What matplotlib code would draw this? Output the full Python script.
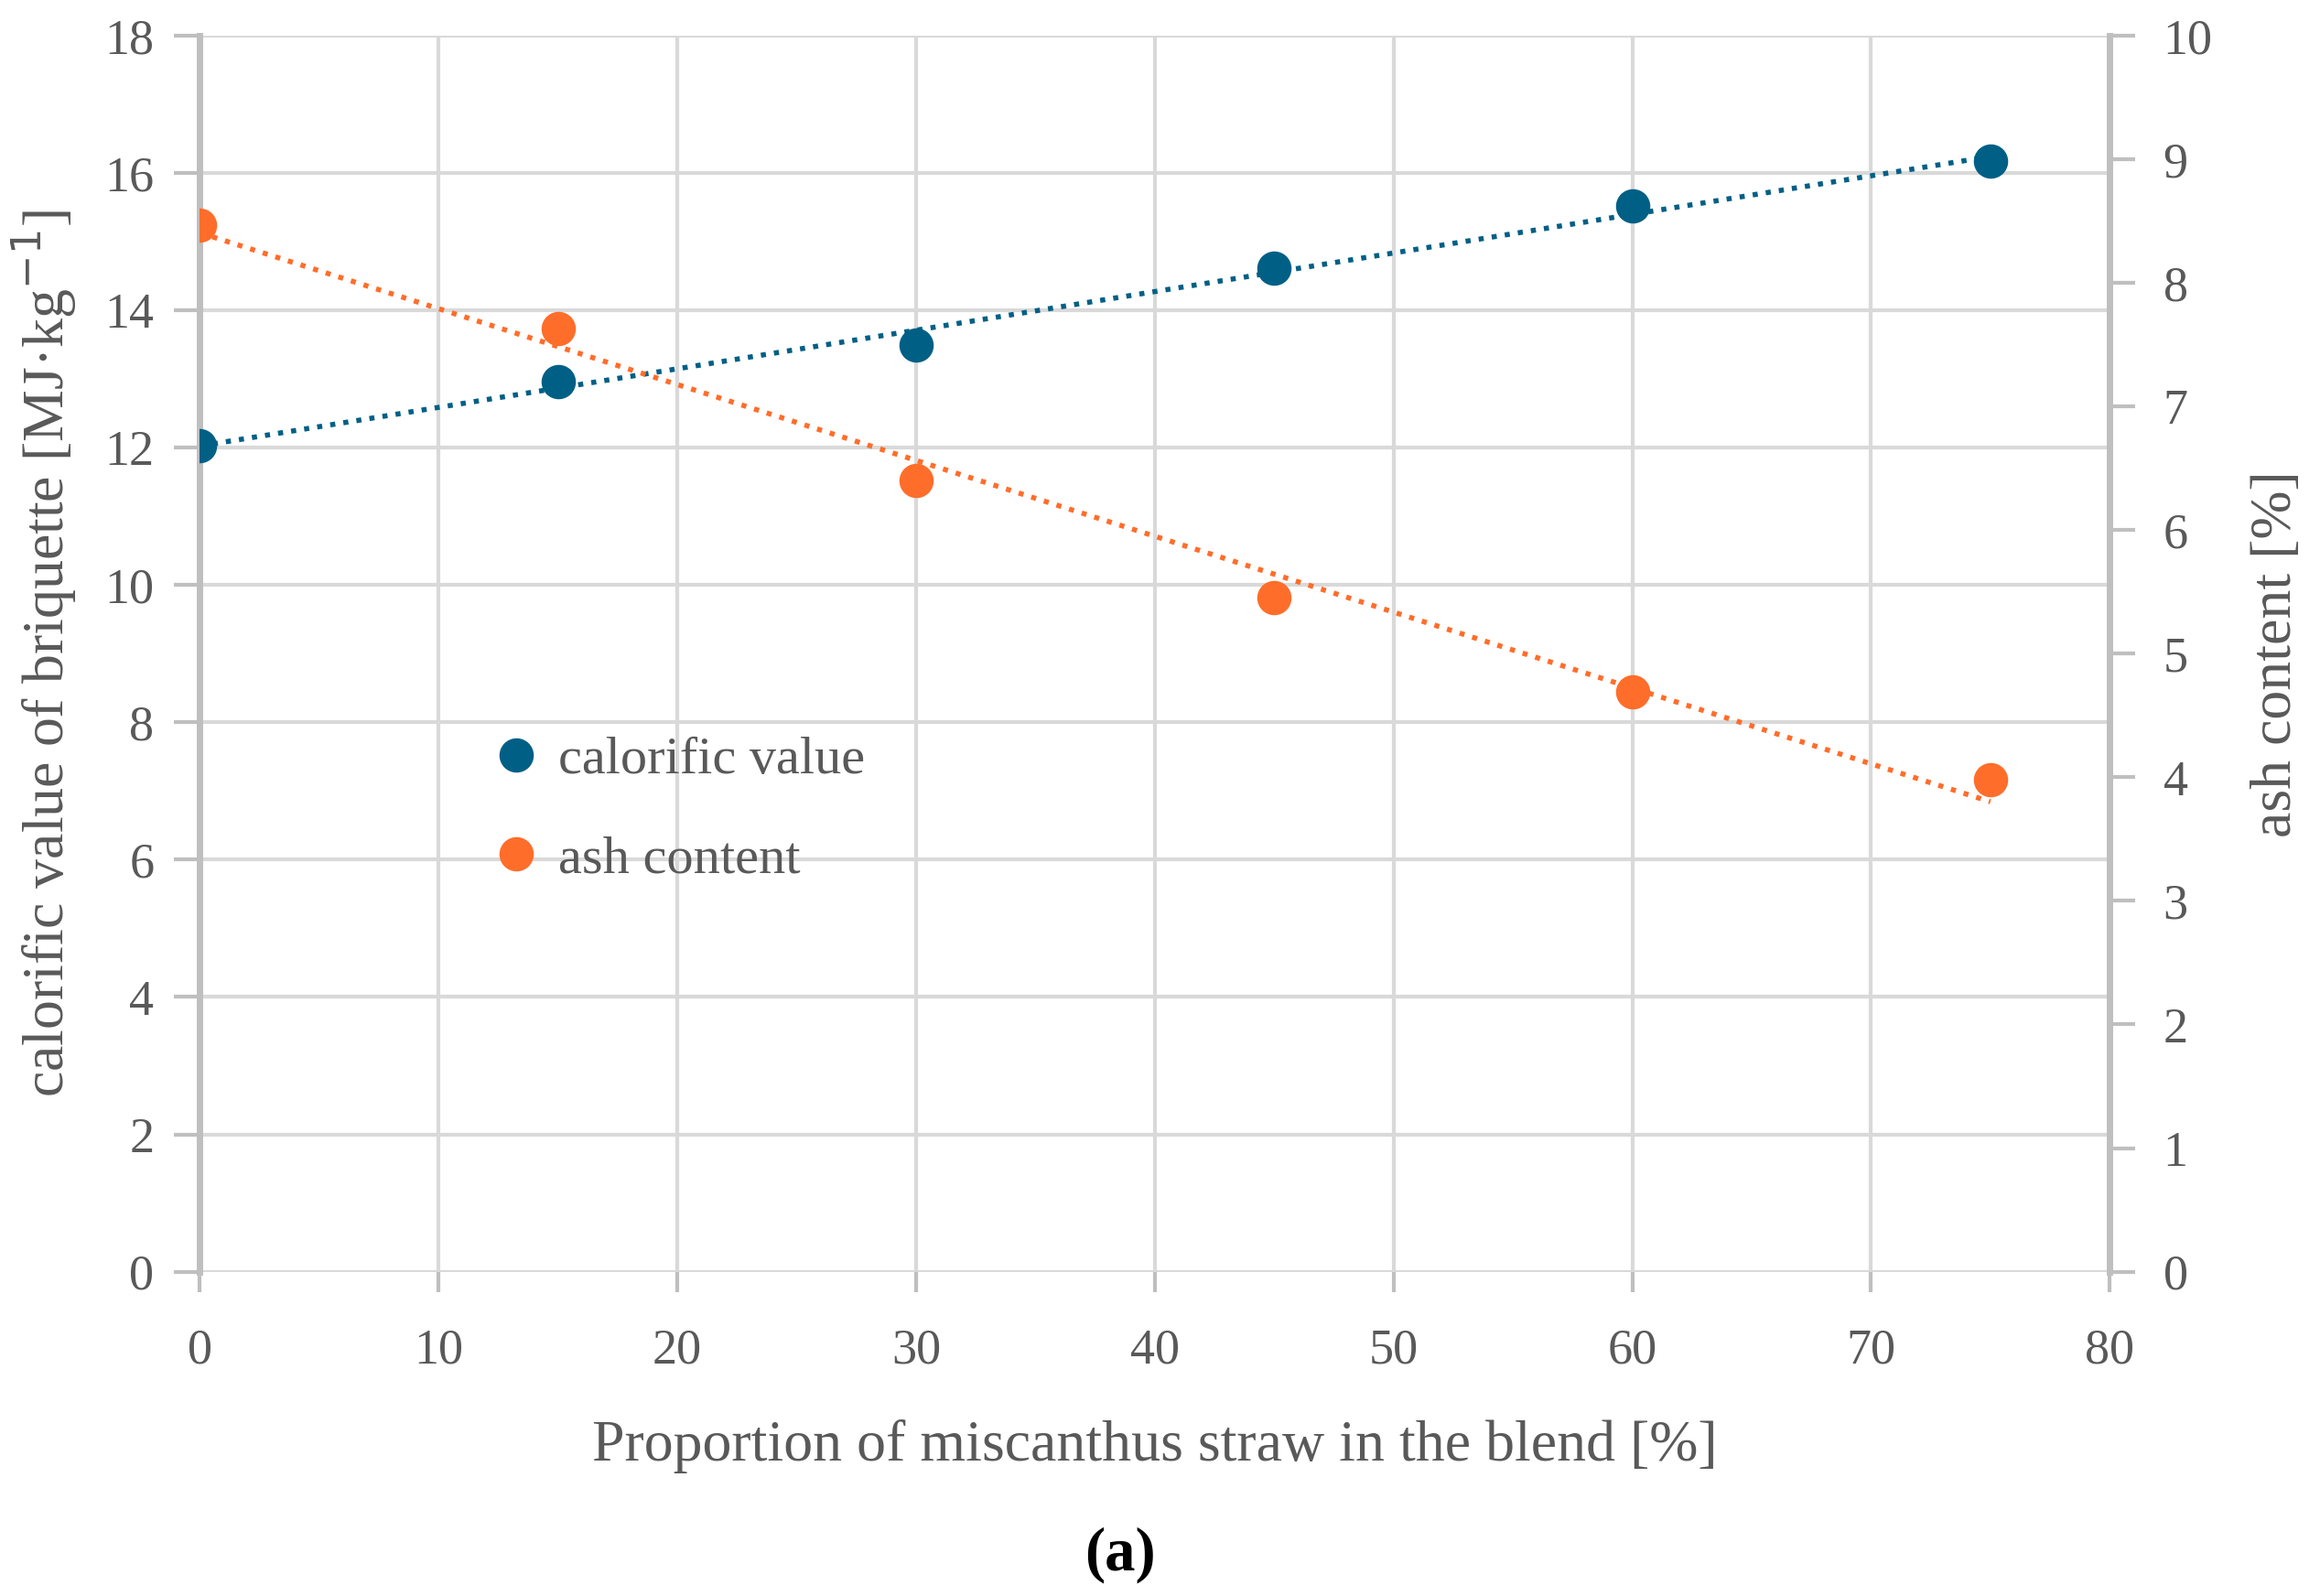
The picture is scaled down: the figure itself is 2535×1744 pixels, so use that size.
import numpy as np
import matplotlib
matplotlib.use("Agg")
import matplotlib.pyplot as plt

# data
share = [0, 15, 30, 45, 60, 75]
calorific = [12.03, 12.96, 13.49, 14.62, 15.52, 16.17]
ash = [8.47, 7.63, 6.40, 5.45, 4.69, 3.98]

blue = "#005F85"
orange = "#FF6D2A"
txt = "#595959"

plt.rcParams['font.family'] = ['Liberation Serif', 'DejaVu Serif']

fig = plt.figure(figsize=(25.35, 17.44), dpi=100)
ax1 = fig.add_axes([0.0861, 0.2032, 0.8233, 0.7745])
ax2 = ax1.twinx()

# trend lines (linear fits of the points)
xx = np.array([0, 75])
p1 = np.polyfit(share, calorific, 1)
p2 = np.polyfit(share, ash, 1)
ax1.plot(xx, np.polyval(p1, xx), color=blue, lw=4, ls=(0, (1, 1.6)), zorder=3)
ax2.plot(xx, np.polyval(p2, xx), color=orange, lw=4, ls=(0, (1, 1.6)), zorder=3)

h1, = ax1.plot(share, calorific, 'o', color=blue, ms=26, zorder=4, label='calorific value')
h2, = ax2.plot(share, ash, 'o', color=orange, ms=26, zorder=4, label='ash content')

ax1.set_xlim(0, 80)
ax1.set_ylim(0, 18)
ax2.set_ylim(0, 10)
ax1.set_xticks(range(0, 81, 10))
ax1.set_yticks(range(0, 19, 2))
ax2.set_yticks(range(0, 11, 1))

ax1.grid(True, color='#d9d9d9', lw=3)
ax1.set_axisbelow(True)

for ax in (ax1, ax2):
    for s in ax.spines.values():
        s.set_visible(False)
    ax.tick_params(colors='#bfbfbf', labelcolor=txt, labelsize=39, width=3, length=20, pad=16)
ax1.spines['left'].set_visible(True)
ax1.spines['left'].set_color('#bfbfbf')
ax1.spines['left'].set_linewidth(5)
ax2.spines['right'].set_visible(True)
ax2.spines['right'].set_color('#bfbfbf')
ax2.spines['right'].set_linewidth(5)
ax2.tick_params(axis='y', pad=22)
ax1.tick_params(axis='x', length=16, pad=28)

ax1.set_xlabel('Proportion of miscanthus straw in the blend [%]', fontsize=46, color=txt, labelpad=36)
ax1.set_ylabel('calorific value of briquette [MJ·kg$^{-1}$]', fontsize=46, color=txt, labelpad=20)
ax2.set_ylabel('ash content [%]', fontsize=46, color=txt, rotation=90, labelpad=30)

ax2.legend(handles=[h1, h2], loc='upper left', bbox_to_anchor=(0.132, 0.472), frameon=False,
           fontsize=42, labelcolor=txt, handlelength=0.6, handletextpad=0.5, labelspacing=0.95,
           markerscale=1.0)

fig.text(0.483, 0.008, '(a)', ha='center', va='bottom', fontsize=48, fontweight='bold', color='black')

fig.savefig('out.png', dpi=100)
